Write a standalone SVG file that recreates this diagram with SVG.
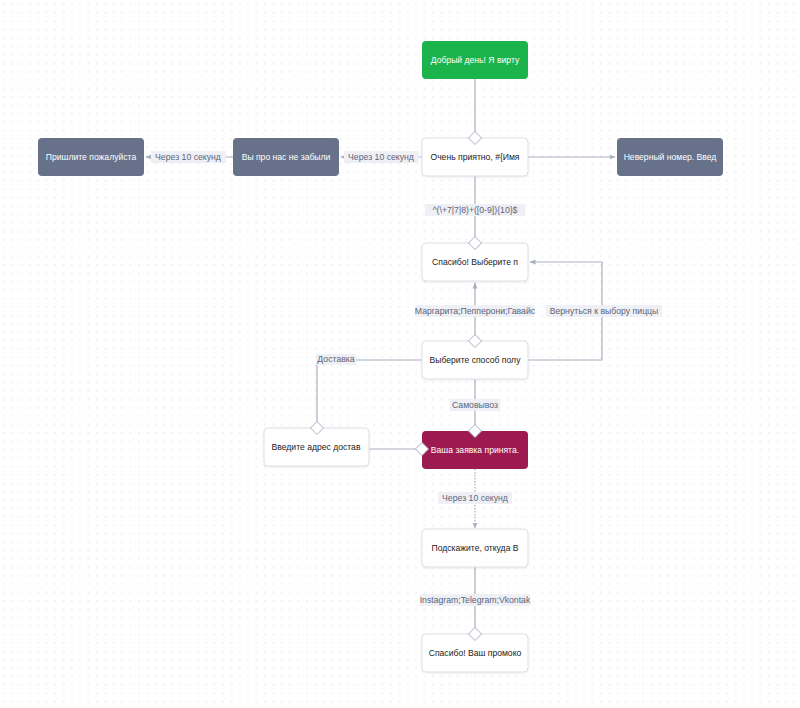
<svg xmlns="http://www.w3.org/2000/svg" width="800" height="708" viewBox="0 0 800 708">
<style>
.nt{font-family:"Liberation Sans",Arial,sans-serif;font-size:8.6px;text-anchor:middle;fill:#222}
.wt{fill:#fff}
.wn{fill:#fff;stroke:#dcdfe6;stroke-width:1}
.ln{fill:none;stroke:#a9b0bf;stroke-width:1.2}
.lb{fill:#eef0f5}
.lt{font-family:"Liberation Sans",Arial,sans-serif;font-size:8.7px;text-anchor:middle;fill:#5d6579}
.dm{fill:#fff;stroke:#a9b0bf;stroke-width:1}
</style>
<defs>
<pattern id="grid" width="8.4" height="8.4" patternUnits="userSpaceOnUse">
<rect x="4" y="4" width="1" height="1" fill="#cfd2d7"/>
</pattern>
<marker id="ar" viewBox="0 0 6 6" refX="5.5" refY="3" markerWidth="6" markerHeight="6" orient="auto" markerUnits="userSpaceOnUse">
<path d="M0,0.5 L6,3 L0,5.5 z" fill="#a9b0bf"/>
</marker>
<filter id="sh" x="-10%" y="-20%" width="120%" height="150%">
<feDropShadow dx="0" dy="1" stdDeviation="1" flood-color="#000" flood-opacity="0.08"/>
</filter>
</defs>
<rect width="800" height="708" fill="#fff"/>
<rect width="800" height="708" fill="url(#grid)"/>

<g id="connectors">
<line class="ln" x1="475" y1="79" x2="475" y2="132"/>
<line class="ln" x1="422" y1="157" x2="341" y2="157" marker-end="url(#ar)"/>
<line class="ln" x1="233" y1="157" x2="146" y2="157" marker-end="url(#ar)"/>
<line class="ln" x1="528" y1="157" x2="615" y2="157" marker-end="url(#ar)"/>
<line class="ln" x1="475" y1="176" x2="475" y2="237"/>
<line class="ln" x1="475" y1="335" x2="475" y2="283" stroke-width="2" marker-end="url(#ar)"/>
<polyline class="ln" points="528,360 602,360 602,262 530,262" marker-end="url(#ar)"/>
<polyline class="ln" points="422,360 317,360 317,422"/>
<line class="ln" x1="475" y1="379" x2="475" y2="425"/>
<line class="ln" x1="369" y1="449" x2="416" y2="449"/>
<line class="ln" x1="475" y1="469" x2="475" y2="528" stroke-dasharray="1.5,1.5" marker-end="url(#ar)"/>
<line class="ln" x1="475" y1="567" x2="475" y2="628"/>

<rect class="lb" x="344" y="151" width="75" height="12"/>
<text class="lt" x="381" y="160">Через 10 секунд</text>
<rect class="lb" x="151" y="151" width="75" height="12"/>
<text class="lt" x="188" y="160">Через 10 секунд</text>
<rect class="lb" x="425" y="204" width="100" height="12"/>
<text class="lt" x="475" y="213">^(\+7|7|8)+([0-9]){10}$</text>
<rect class="lb" x="415" y="305" width="120" height="12"/>
<text class="lt" x="475" y="314">Маргарита;Пепперони;Гавайс</text>
<rect class="lb" x="546" y="305" width="116" height="12"/>
<text class="lt" x="604" y="314">Вернуться к выбору пиццы</text>
<rect class="lb" x="316" y="354" width="40" height="11"/>
<text class="lt" x="336" y="362">Доставка</text>
<rect class="lb" x="450" y="399" width="50" height="12"/>
<text class="lt" x="475" y="408">Самовывоз</text>
<rect class="lb" x="438" y="492" width="74" height="12"/>
<text class="lt" x="475" y="501">Через 10 секунд</text>
<rect class="lb" x="420" y="594" width="110" height="12"/>
<text class="lt" x="475" y="603">Instagram;Telegram;Vkontak</text>
</g>

<g id="n-hello">
<rect x="422" y="41" width="106" height="38" rx="4" fill="#1bb34b"/>
<text class="nt wt" x="475" y="63">Добрый день! Я вирту</text>
</g>
<g id="n-nice">
<rect class="wn" x="422" y="138" width="106" height="38" rx="4" filter="url(#sh)"/>
<text class="nt" x="475" y="160">Очень приятно, #{Имя</text>
</g>
<g id="n-forgot">
<rect x="233" y="138" width="106" height="38" rx="4" fill="#67718a"/>
<text class="nt wt" x="286" y="160">Вы про нас не забыли</text>
</g>
<g id="n-send">
<rect x="38" y="138" width="106" height="38" rx="4" fill="#67718a"/>
<text class="nt wt" x="91" y="160">Пришлите пожалуйста</text>
</g>
<g id="n-wrong">
<rect x="617" y="138" width="106" height="38" rx="4" fill="#67718a"/>
<text class="nt wt" x="670" y="160">Неверный номер. Введ</text>
</g>
<g id="n-pizza">
<rect class="wn" x="422" y="243" width="106" height="38" rx="4" filter="url(#sh)"/>
<text class="nt" x="475" y="265">Спасибо!  Выберите п</text>
</g>
<g id="n-method">
<rect class="wn" x="422" y="341" width="106" height="38" rx="4" filter="url(#sh)"/>
<text class="nt" x="475" y="363">Выберите способ полу</text>
</g>
<g id="n-address">
<rect class="wn" x="264" y="428" width="105" height="38" rx="4" filter="url(#sh)"/>
<text class="nt" x="316" y="450">Введите адрес достав</text>
</g>
<g id="n-accepted">
<rect x="422" y="431" width="106" height="38" rx="4" fill="#9c1a50"/>
<text class="nt wt" x="475" y="453">Ваша заявка принята.</text>
</g>
<g id="n-where">
<rect class="wn" x="422" y="529" width="106" height="38" rx="4" filter="url(#sh)"/>
<text class="nt" x="475" y="551">Подскажите, откуда В</text>
</g>
<g id="n-promo">
<rect class="wn" x="422" y="634" width="106" height="38" rx="4" filter="url(#sh)"/>
<text class="nt" x="475" y="656">Спасибо! Ваш промоко</text>
</g>

<g id="ports">
<path class="dm" d="M475,131.5 L481.5,138 L475,144.5 L468.5,138 z"/>
<path class="dm" d="M475,236.5 L481.5,243 L475,249.5 L468.5,243 z"/>
<path class="dm" d="M475,334.5 L481.5,341 L475,347.5 L468.5,341 z"/>
<path class="dm" d="M317,421.5 L323.5,428 L317,434.5 L310.5,428 z"/>
<path class="dm" d="M475,424.5 L481.5,431 L475,437.5 L468.5,431 z"/>
<path class="dm" d="M422,442.5 L428.5,449 L422,455.5 L415.5,449 z"/>
<path class="dm" d="M475,627.5 L481.5,634 L475,640.5 L468.5,634 z"/>
</g>
</svg>
